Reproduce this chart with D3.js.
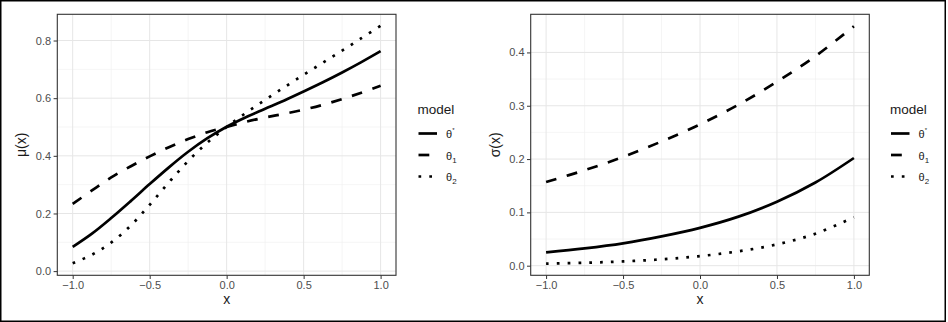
<!DOCTYPE html>
<html>
<head>
<meta charset="utf-8">
<script src="https://cdn.jsdelivr.net/npm/d3@7"></script>
<style>
  html, body { margin: 0; padding: 0; background: #fff; }
  svg { display: block; font-family: "Liberation Sans", Arial, sans-serif; }
</style>
</head>
<body>
<svg id="chart" width="948" height="322"></svg>
<script>
// ---- data ----
const xMu = [-1, -0.875, -0.75, -0.625, -0.5, -0.375, -0.25, -0.125, 0, 0.125, 0.25, 0.375, 0.5, 0.625, 0.75, 0.875, 1];
const muThetaStar = [0.084, 0.130, 0.184, 0.242, 0.302, 0.360, 0.414, 0.461, 0.501, 0.534, 0.563, 0.592, 0.623, 0.655, 0.689, 0.725, 0.763];
const muTheta1    = [0.233, 0.280, 0.325, 0.363, 0.398, 0.430, 0.458, 0.482, 0.500, 0.518, 0.533, 0.546, 0.560, 0.577, 0.597, 0.619, 0.643];
const muTheta2    = [0.027, 0.057, 0.099, 0.157, 0.230, 0.308, 0.382, 0.446, 0.500, 0.549, 0.594, 0.638, 0.681, 0.723, 0.765, 0.808, 0.851];

const xSigma = [-1, -0.75, -0.5, -0.25, 0, 0.25, 0.5, 0.75, 1];
const sigmaThetaStar = [0.025, 0.0325, 0.042, 0.055, 0.071, 0.092, 0.120, 0.156, 0.202];
const sigmaTheta1    = [0.157, 0.179, 0.204, 0.233, 0.265, 0.302, 0.345, 0.393, 0.449];
const sigmaTheta2    = [0.004, 0.0055, 0.008, 0.012, 0.018, 0.027, 0.040, 0.060, 0.091];

const xTicks = [-1.0, -0.5, 0.0, 0.5, 1.0];
const xMinor = [-0.75, -0.25, 0.25, 0.75];
const muTicks = [0.0, 0.2, 0.4, 0.6, 0.8];
const muMinor = [0.1, 0.3, 0.5, 0.7];
const sigmaTicks = [0.0, 0.1, 0.2, 0.3, 0.4];
const sigmaMinor = [0.05, 0.15, 0.25, 0.35];

const models = ["theta*", "theta1", "theta2"];
// ---- drawing ----
const svg = d3.select("#chart");
const LW = 2.7;
const dashes = { "theta*": null, "theta1": `${4*LW},${4*LW}`, "theta2": `${LW},${3*LW}` };

svg.append("rect").attr("x", 0.75).attr("y", 0.75).attr("width", 944.5).attr("height", 320.5)
  .attr("fill", "#fff").attr("stroke", "#000").attr("stroke-width", 1.5);

const fmt = d => (d < 0 ? "\u2212" : "") + Math.abs(d).toFixed(1);

function panel(cfg) {
  const x = d3.scaleLinear().domain([-1.1, 1.1]).range([cfg.left, cfg.right]);
  const y = d3.scaleLinear().domain(cfg.yDomain).range([cfg.bottom, cfg.top]);
  const g = svg.append("g");
  g.append("rect").attr("x", cfg.left).attr("y", cfg.top)
    .attr("width", cfg.right - cfg.left).attr("height", cfg.bottom - cfg.top).attr("fill", "#fff");
  // minor grid
  g.selectAll(".vminor").data(xMinor).join("line")
    .attr("x1", d => x(d)).attr("x2", d => x(d)).attr("y1", cfg.top).attr("y2", cfg.bottom)
    .attr("stroke", "#EFEFEF").attr("stroke-width", 0.6);
  g.selectAll(".hminor").data(cfg.minor).join("line")
    .attr("y1", d => y(d)).attr("y2", d => y(d)).attr("x1", cfg.left).attr("x2", cfg.right)
    .attr("stroke", "#EFEFEF").attr("stroke-width", 0.6);
  // major grid
  g.selectAll(".vmajor").data(xTicks).join("line")
    .attr("x1", d => x(d)).attr("x2", d => x(d)).attr("y1", cfg.top).attr("y2", cfg.bottom)
    .attr("stroke", "#E6E6E6").attr("stroke-width", 1);
  g.selectAll(".hmajor").data(cfg.ticks).join("line")
    .attr("y1", d => y(d)).attr("y2", d => y(d)).attr("x1", cfg.left).attr("x2", cfg.right)
    .attr("stroke", "#E6E6E6").attr("stroke-width", 1);

  const series = [
    { key: "theta*", vals: cfg.series[0] },
    { key: "theta1", vals: cfg.series[1] },
    { key: "theta2", vals: cfg.series[2] }
  ];
  const line = d3.line().x((d, i) => x(cfg.xs[i])).y(d => y(d)).curve(d3.curveCatmullRom.alpha(0.5));
  series.forEach(s => {
    const p = g.append("path").attr("d", line(s.vals)).attr("fill", "none")
      .attr("stroke", "#000").attr("stroke-width", LW).attr("stroke-linecap", "butt");
    if (dashes[s.key]) p.attr("stroke-dasharray", dashes[s.key]);
  });

  g.append("rect").attr("x", cfg.left).attr("y", cfg.top)
    .attr("width", cfg.right - cfg.left).attr("height", cfg.bottom - cfg.top)
    .attr("fill", "none").attr("stroke", "#333").attr("stroke-width", 1.1);

  const xAxis = d3.axisBottom(x).tickValues(xTicks).tickFormat(fmt).tickSize(3.7).tickPadding(2.5);
  const gx = g.append("g").attr("transform", `translate(0,${cfg.bottom})`).call(xAxis);
  gx.select(".domain").remove();
  gx.selectAll(".tick line").attr("stroke", "#333").attr("stroke-width", 1);
  gx.selectAll(".tick text").attr("fill", "#4D4D4D").style("font-size", "11px")
    .style("font-family", "'Liberation Sans', Arial, sans-serif");

  const yAxis = d3.axisLeft(y).tickValues(cfg.ticks).tickFormat(fmt).tickSize(3.7).tickPadding(2.5);
  const gy = g.append("g").attr("transform", `translate(${cfg.left},0)`).call(yAxis);
  gy.select(".domain").remove();
  gy.selectAll(".tick line").attr("stroke", "#333").attr("stroke-width", 1);
  gy.selectAll(".tick text").attr("fill", "#4D4D4D").style("font-size", "11px")
    .style("font-family", "'Liberation Sans', Arial, sans-serif");

  g.append("text").attr("x", (cfg.left + cfg.right) / 2).attr("y", 303.5)
    .attr("text-anchor", "middle").attr("fill", "#1a1a1a").style("font-size", "14px").text("x");
  g.append("text").attr("transform", `translate(${cfg.left - 31},${(cfg.top + cfg.bottom) / 2}) rotate(-90)`)
    .attr("text-anchor", "middle").attr("fill", "#1a1a1a").style("font-size", "14px").text(cfg.ylab);

  const lg = svg.append("g").attr("transform", `translate(${cfg.legendX},0)`);
  lg.append("text").attr("x", 0).attr("y", 114).attr("fill", "#1a1a1a").style("font-size", "13.5px").text("model");
  const keyY = [133.5, 155, 176.5];
  models.forEach((m, i) => {
    const l = lg.append("line").attr("x1", 1).attr("x2", 19.5).attr("y1", keyY[i]).attr("y2", keyY[i])
      .attr("stroke", "#000").attr("stroke-width", LW).attr("stroke-linecap", "butt");
    if (dashes[m]) l.attr("stroke-dasharray", dashes[m]);
    const t = lg.append("text").attr("x", 28.5).attr("y", keyY[i] + 4.5).attr("fill", "#1a1a1a")
      .style("font-size", "11px");
    t.append("tspan").text("\u03B8");
    if (m === "theta*") {
      t.append("tspan").attr("dy", -6).style("font-size", "6px").text("*");
    } else {
      t.append("tspan").attr("dy", 3).style("font-size", "8px").text(m === "theta1" ? "1" : "2");
    }
  });
}

panel({
  left: 57.3, right: 396, top: 14.3, bottom: 275.3,
  yDomain: [-0.0145, 0.891], ticks: muTicks, minor: muMinor,
  xs: xMu, series: [muThetaStar, muTheta1, muTheta2],
  ylab: "\u03BC(x)", legendX: 417.5
});
panel({
  left: 530.7, right: 869.3, top: 14.3, bottom: 275.3,
  yDomain: [-0.018, 0.4715], ticks: sigmaTicks, minor: sigmaMinor,
  xs: xSigma, series: [sigmaThetaStar, sigmaTheta1, sigmaTheta2],
  ylab: "\u03C3(x)", legendX: 890
});
</script>
</body>
</html>
